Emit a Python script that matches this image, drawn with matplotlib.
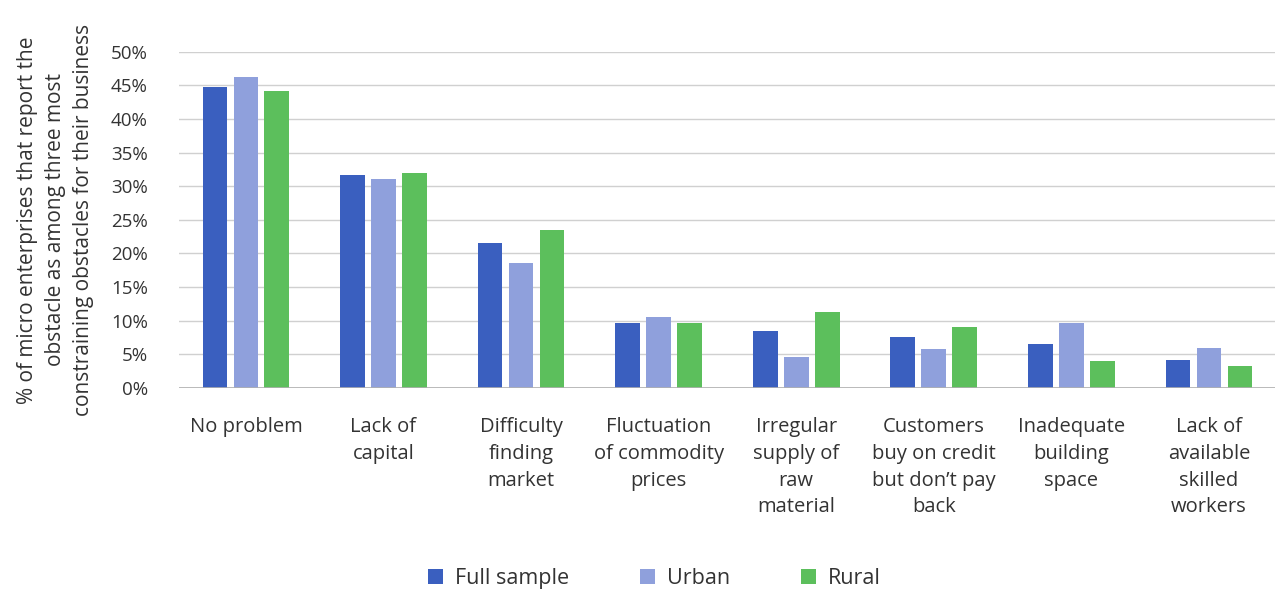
import numpy as np
import matplotlib.pyplot as plt
from matplotlib.ticker import PercentFormatter

######### Data ################################
categories = ["No problem", "Lack of\ncapital", "Difficulty\nfinding\nmarket",
              "Fluctuation\nof commodity\nprices", "Irregular\nsupply of\nraw\nmaterial",
              "Customers\nbuy on credit\nbut don\u2019t pay\nback", "Inadequate\nbuilding\nspace",
              "Lack of\navailable\nskilled\nworkers"]
full_sample = [44.8, 31.6, 21.5, 9.7, 8.5, 7.6, 6.6, 4.2]
urban = [46.2, 31.1, 18.5, 10.5, 4.6, 5.8, 9.7, 5.9]
rural = [44.2, 31.9, 23.5, 9.7, 11.3, 9.1, 4.0, 3.2]
series_names = ["Full sample", "Urban", "Rural"]
colors = ["#3a5fbf", "#8fa0dc", "#5cbf5c"]
###############################################

plt.rcParams['font.family'] = ['Open Sans', 'DejaVu Sans']
text_col = "#333333"

fig = plt.figure(figsize=(12.75, 5.94), dpi=100)
ax = fig.add_axes([0.14, 0.347, 0.86, 0.566])

x = np.arange(len(categories))
width = 0.18
step = 0.225
for i, (vals, name, c) in enumerate(zip([full_sample, urban, rural], series_names, colors)):
    ax.bar(x + (i - 1) * step, vals, width, color=c, label=name, zorder=3)

ax.set_xlim(-0.49, len(categories) - 0.52)
ax.set_ylim(0, 50)
ax.set_yticks(np.arange(0, 51, 5))
ax.yaxis.set_major_formatter(PercentFormatter(decimals=0))
ax.grid(axis='y', color="#d0d0d0", linewidth=1, zorder=0)
ax.axhline(0, color="#b0b0b0", linewidth=1.2, zorder=4)
for s in ax.spines.values():
    s.set_visible(False)
ax.tick_params(axis='y', length=0, labelsize=13.5, colors=text_col, pad=22)
ax.tick_params(axis='x', length=0, labelsize=14.5, colors=text_col, pad=21)
ax.set_xticks(x)
ax.set_xticklabels(categories, linespacing=1.45, va='top')

ax.set_ylabel("% of micro enterprises that report the\nobstacle as among three most\nconstraining obstacles for their business",
              fontsize=15, color=text_col, linespacing=1.45, labelpad=12)

leg = fig.legend(loc='lower center', bbox_to_anchor=(0.513, -0.025), ncol=3, frameon=False,
                 fontsize=15.5, handlelength=0.7, handleheight=0.7, columnspacing=3.3,
                 handletextpad=0.55)
for t in leg.get_texts():
    t.set_color(text_col)

fig.savefig("out.png", dpi=100)
